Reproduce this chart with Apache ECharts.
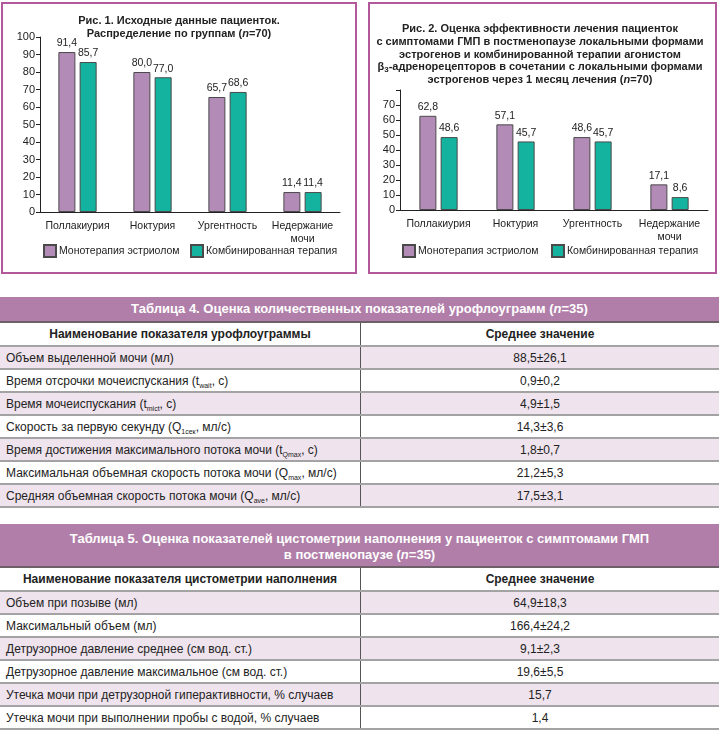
<!DOCTYPE html>
<html><head><meta charset="utf-8">
<script src="https://cdn.jsdelivr.net/npm/echarts@6/dist/echarts.min.js"></script>
<style>
html,body{margin:0;padding:0;background:#fff;}
body{width:720px;height:735px;position:relative;overflow:hidden;font-family:"Liberation Sans",Arial,sans-serif;color:#222;}
.box{position:absolute;border:2px solid #b3589b;box-sizing:border-box;}
.chart{position:absolute;}
.tbl{position:absolute;left:0;width:719px;}
.band{background:#b07ea8;color:#fff;font-weight:bold;font-size:13px;text-align:center;border-bottom:2px solid #6d6168;box-sizing:border-box;}
.row{display:flex;box-sizing:border-box;border-bottom:2px solid #a3a3a3;font-size:12px;}
.row.sh{background:#efe3ed;}
.c1{width:361px;border-right:1px solid #555;box-sizing:border-box;padding-left:6px;display:flex;align-items:center;}
.c2{flex:1;display:flex;align-items:center;justify-content:center;}
.hdr{font-weight:bold;}
.hdr .c1{justify-content:center;padding-left:0;}
sub{font-size:7px;vertical-align:-3px;line-height:0;}
</style></head>
<body>
<div class="box" style="left:1px;top:2px;width:356px;height:272px;"></div>
<div class="box" style="left:368px;top:2px;width:349px;height:272px;"></div>
<div id="c1" class="chart" style="left:0;top:0;width:358px;height:275px;"></div>
<div id="c2" class="chart" style="left:360px;top:0;width:360px;height:275px;"></div>
<div id="t4" class="tbl" style="top:297px;"></div>
<div id="t5" class="tbl" style="top:524px;"></div>
<script>
// ---------- data ----------
var categories = ['Поллакиурия', 'Ноктурия', 'Ургентность', 'Недержание\nмочи'];
var seriesNames = ['Монотерапия эстриолом', 'Комбинированная терапия'];
var fig1Mono = [91.4, 80.0, 65.7, 11.4];
var fig1Combo = [85.7, 77.0, 68.6, 11.4];
var fig2Mono = [62.8, 57.1, 48.6, 17.1];
var fig2Combo = [48.6, 45.7, 45.7, 8.6];
var fig1Ticks = [0, 10, 20, 30, 40, 50, 60, 70, 80, 90, 100];
var fig2Ticks = [0, 10, 20, 30, 40, 50, 60, 70];

var table4Title = ['Таблица 4. Оценка количественных показателей урофлоуграмм (', 'n', '=35)'];
var table4Head = ['Наименование показателя урофлоуграммы', 'Среднее значение'];
var table4Names = [
  ['Объем выделенной мочи (мл)', '', ''],
  ['Время отсрочки мочеиспускания (t', 'wait', ', с)'],
  ['Время мочеиспускания (t', 'mict', ', с)'],
  ['Скорость за первую секунду (Q', '1сек', ', мл/с)'],
  ['Время достижения максимального потока мочи (t', 'Qmax', ', с)'],
  ['Максимальная объемная скорость потока мочи (Q', 'max', ', мл/с)'],
  ['Средняя объемная скорость потока мочи (Q', 'ave', ', мл/с)']
];
var table4Values = ['88,5±26,1', '0,9±0,2', '4,9±1,5', '14,3±3,6', '1,8±0,7', '21,2±5,3', '17,5±3,1'];

var table5Title = ['Таблица 5. Оценка показателей цистометрии наполнения у пациенток с симптомами ГМП', 'в постменопаузе (', 'n', '=35)'];
var table5Head = ['Наименование показателя цистометрии наполнения', 'Среднее значение'];
var table5Names = [
  'Объем при позыве (мл)',
  'Максимальный объем (мл)',
  'Детрузорное давление среднее (см вод. ст.)',
  'Детрузорное давление максимальное (см вод. ст.)',
  'Утечка мочи при детрузорной гиперактивности, % случаев',
  'Утечка мочи при выполнении пробы с водой, % случаев'
];
var table5Values = ['64,9±18,3', '166,4±24,2', '9,1±2,3', '19,6±5,5', '15,7', '1,4'];

// ---------- charts ----------
var PURPLE = '#b38bb7', TEAL = '#14b39f', FONT = '"Liberation Sans", Arial, sans-serif';
function fmt(v) { return v.toFixed(1).replace('.', ','); }

function makeOption(cfg) {
  function bar(name, data, color) {
    return {
      name: name, type: 'bar', data: data, barWidth: 17, barGap: '25%',
      itemStyle: { color: color, borderColor: '#4a4a4a', borderWidth: 1 },
      label: { show: true, position: 'top', distance: 3, fontSize: 10.5, color: '#222', fontFamily: FONT,
        formatter: function (p) { return fmt(p.value); } }
    };
  }
  function leg(name, left) {
    return { data: [name], left: left, top: 244, padding: 0, itemWidth: 12, itemHeight: 12, itemGap: 0, icon: 'rect',
      textStyle: { fontSize: 10.5, color: '#222', fontFamily: FONT, padding: [0, 0, 0, -2] } };
  }
  return {
    animation: false,
    textStyle: { fontFamily: FONT },
    title: cfg.title,
    grid: cfg.grid,
    legend: [leg(seriesNames[0], cfg.leg1), leg(seriesNames[1], cfg.leg2)],
    xAxis: {
      type: 'category', data: categories,
      axisLine: { lineStyle: { color: '#222', width: 1 } },
      axisTick: { show: false },
      axisLabel: { fontSize: 10.5, color: '#222', margin: 8, lineHeight: 13, interval: 0, fontFamily: FONT }
    },
    yAxis: {
      type: 'value', min: 0, max: cfg.max, interval: 10,
      axisLine: { show: true, lineStyle: { color: '#222', width: 1 } },
      axisTick: { show: true, length: 4, lineStyle: { color: '#222' } },
      splitLine: { show: false },
      axisLabel: { fontSize: 11, color: '#222', margin: 5, fontFamily: FONT,
        formatter: function (v) { return cfg.ticks.indexOf(v) >= 0 ? String(v) : ''; } }
    },
    series: [bar(seriesNames[0], cfg.mono, PURPLE), bar(seriesNames[1], cfg.combo, TEAL)]
  };
}

var rich = {
  b: { fontWeight: 'bold', fontSize: 11, lineHeight: 12.7, color: '#222', fontFamily: FONT },
  i: { fontWeight: 'bold', fontStyle: 'italic', fontSize: 11, lineHeight: 12.7, color: '#222', fontFamily: FONT },
  s: { fontWeight: 'bold', fontSize: 8, lineHeight: 12.7, color: '#222', fontFamily: FONT, padding: [5, 0, 0, 0] }
};

var ch1 = echarts.init(document.getElementById('c1'));
ch1.setOption(makeOption({
  title: { text: '{b|Рис. 1. Исходные данные пациенток.}\n{b|Распределение по группам (}{i|n}{b|=70)}',
    left: 'center', top: 10, textStyle: { rich: rich } },
  grid: { left: 40, top: 37, width: 300, height: 175 },
  max: 100, ticks: fig1Ticks, mono: fig1Mono, combo: fig1Combo, leg1: 43, leg2: 190
}));

var ch2 = echarts.init(document.getElementById('c2'));
ch2.setOption(makeOption({
  title: { text: '{b|Рис. 2. Оценка эффективности лечения пациенток}\n' +
    '{b|с симптомами ГМП в постменопаузе локальными формами}\n' +
    '{b|эстрогенов и комбинированной терапии агонистом}\n' +
    '{b|β}{s|3}{b|-адренорецепторов в сочетании с локальными формами}\n' +
    '{b|эстрогенов через 1 месяц лечения (}{i|n}{b|=70)}',
    left: 'center', top: 18, textStyle: { rich: rich } },
  grid: { left: 40, top: 90, width: 308, height: 120 },
  max: 80, ticks: fig2Ticks, mono: fig2Mono, combo: fig2Combo, leg1: 42, leg2: 191
}));

// ---------- tables ----------
function esc(s) { return s.replace(/&/g, '&amp;').replace(/</g, '&lt;'); }
function buildTable(el, titleHtml, bandH, bandPad, head, names, values) {
  var h = '<div class="band" style="height:' + bandH + 'px;padding-top:' + bandPad + 'px;display:flex;align-items:center;justify-content:center;line-height:16px;"><span>' + titleHtml + '</span></div>';
  h += '<div class="row hdr" style="height:24px;"><div class="c1"><span>' + esc(head[0]) + '</span></div><div class="c2"><span>' + esc(head[1]) + '</span></div></div>';
  for (var i = 0; i < names.length; i++) {
    h += '<div class="row' + (i % 2 === 0 ? ' sh' : '') + '" style="height:23px;"><div class="c1"><span>' + names[i] + '</span></div><div class="c2"><span>' + esc(values[i]) + '</span></div></div>';
  }
  el.innerHTML = h;
}
buildTable(document.getElementById('t4'),
  esc(table4Title[0]) + '<i>' + table4Title[1] + '</i>' + esc(table4Title[2]), 26, 0, table4Head,
  table4Names.map(function (p) { return esc(p[0]) + (p[1] ? '<sub>' + esc(p[1]) + '</sub>' : '') + esc(p[2]); }),
  table4Values);
buildTable(document.getElementById('t5'),
  esc(table5Title[0]) + '<br>' + esc(table5Title[1]) + '<i>' + table5Title[2] + '</i>' + esc(table5Title[3]), 44, 4, table5Head,
  table5Names.map(esc), table5Values);
</script>
</body></html>
